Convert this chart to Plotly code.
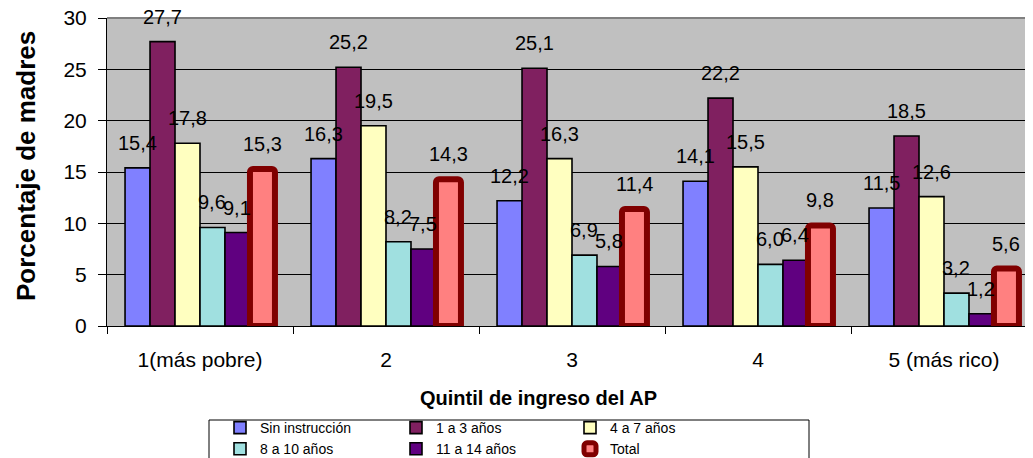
import plotly.graph_objects as go

categories = ["1(más pobre)", "2", "3", "4", "5 (más rico)"]
series_names = ["Sin instrucción", "1 a 3 años", "4 a 7 años", "8 a 10 años", "11 a 14 años", "Total"]
sin_instruccion = [15.4, 16.3, 12.2, 14.1, 11.5]
anios_1_3 = [27.7, 25.2, 25.1, 22.2, 18.5]
anios_4_7 = [17.8, 19.5, 16.3, 15.5, 12.6]
anios_8_10 = [9.6, 8.2, 6.9, 6.0, 3.2]
anios_11_14 = [9.1, 7.5, 5.8, 6.4, 1.2]
total = [15.3, 14.3, 11.4, 9.8, 5.6]
y_ticks = [0, 5, 10, 15, 20, 25, 30]

series_values = [sin_instruccion, anios_1_3, anios_4_7, anios_8_10, anios_11_14, total]
fill_colors = ["#8080FF", "#802060", "#FFFFC0", "#A0E0E0", "#600080", "#FF8080"]
line_colors = ["#000000"] * 5 + ["#800000"]
line_widths = [1.6] * 5 + [6]
legend_ids = ["legend", "legend2", "legend3", "legend", "legend2", "legend3"]

FONT = "Arial, Liberation Sans, sans-serif"
BARGAP = 0.194
n = len(series_names)
bw = (1 - BARGAP) / n
x_pos = list(range(len(categories)))
boundaries = [i - 0.5 for i in range(len(categories) + 1)]

# the page body has an 8px margin, so the figure is drawn 8px right/down
OFF = 8
WIN_W, WIN_H = 1033, 458
W, H = WIN_W - OFF, WIN_H - OFF
# plot-area geometry in window pixels
L_REF, T_REF, R_REF, B_REF = 107, 18, 1033, 326
L, T, R, B = L_REF - OFF, T_REF - OFF, R_REF - OFF, B_REF - OFF
PW, PH = R - L, B - T


def px_x(px):
    return (px - L_REF) / PW


def px_y(py):
    return (B_REF - py) / PH


fig = go.Figure()
annotations = []
for j, (name, vals) in enumerate(zip(series_names, series_values)):
    fig.add_trace(go.Bar(
        x=x_pos, y=vals, name=name,
        marker=dict(color=fill_colors[j],
                    line=dict(color=line_colors[j], width=line_widths[j]),
                    cornerradius=3 if j == n - 1 else 0),
        legend=legend_ids[j],
    ))
    off = (j - (n - 1) / 2) * bw
    for i, v in enumerate(vals):
        annotations.append(dict(
            x=x_pos[i] + off, y=v, xref="x", yref="y",
            text=f"{v:.1f}".replace(".", ","),
            showarrow=False, yanchor="bottom", xanchor="center", yshift=12,
            font=dict(family=FONT, size=20, color="#000000"),
        ))

annotations.append(dict(
    x=px_x(538), y=px_y(398), xref="paper", yref="paper",
    text="<b>Quintil de ingreso del AP</b>", showarrow=False,
    xanchor="center", yanchor="middle",
    font=dict(family=FONT, size=20, color="#000000"),
))
annotations.append(dict(
    x=px_x(26), y=px_y(166), xref="paper", yref="paper",
    text="<b>Porcentaje de madres</b>", showarrow=False, textangle=-90,
    xanchor="center", yanchor="middle",
    font=dict(family=FONT, size=26, color="#000000"),
))

legend_common = dict(
    orientation="v", xref="paper", yref="paper", xanchor="left", yanchor="top",
    font=dict(family=FONT, size=14, color="#000000"), bgcolor="rgba(0,0,0,0)",
    borderwidth=0, itemclick=False, itemdoubleclick=False, tracegroupgap=0,
)
y_leg = px_y(412)

fig.update_layout(
    width=W, height=H,
    margin=dict(l=L, r=W - R, t=T, b=H - B, pad=0, autoexpand=False),
    paper_bgcolor="#FFFFFF", plot_bgcolor="#C0C0C0",
    font=dict(family=FONT, size=20, color="#000000"),
    barmode="group", bargap=BARGAP, bargroupgap=0,
    showlegend=True,
    legend=dict(x=px_x(220), y=y_leg, **legend_common),
    legend2=dict(x=px_x(396), y=y_leg, **legend_common),
    legend3=dict(x=px_x(570), y=y_leg, **legend_common),
    annotations=annotations,
    xaxis=dict(
        range=[-0.5, 4.5 - 4 / 186],
        tickmode="array", tickvals=x_pos, ticktext=categories, tickangle=0,
        ticks="", showline=True, linecolor="#000000", linewidth=1,
        showgrid=False, zeroline=False, ticklabelstandoff=15,
        ticklabeloverflow="allow",
        tickfont=dict(family=FONT, size=21, color="#000000"),
        minor=dict(tickmode="array", tickvals=boundaries, ticks="outside",
                   ticklen=7, tickcolor="#000000", tickwidth=1, showgrid=False),
    ),
    yaxis=dict(
        range=[0, 30], tickmode="array", tickvals=y_ticks, ticks="outside", ticklen=8,
        tickcolor="#000000", tickwidth=1,
        showline=True, linecolor="#000000", linewidth=1,
        showgrid=True, gridcolor="#000000", gridwidth=1, zeroline=False,
        ticklabelstandoff=7, ticklabeloverflow="allow",
        tickfont=dict(family=FONT, size=21, color="#000000"),
    ),
    shapes=[
        dict(type="line", xref="paper", yref="paper", x0=0, x1=1, y0=1, y1=1,
             line=dict(color="#808080", width=2), layer="above"),
        dict(type="rect", xref="paper", yref="paper",
             x0=px_x(209), x1=px_x(809), y0=px_y(420), y1=px_y(475),
             line=dict(color="#000000", width=1), fillcolor="rgba(0,0,0,0)", layer="above"),
    ],
)

fig.write_html("out.html")
